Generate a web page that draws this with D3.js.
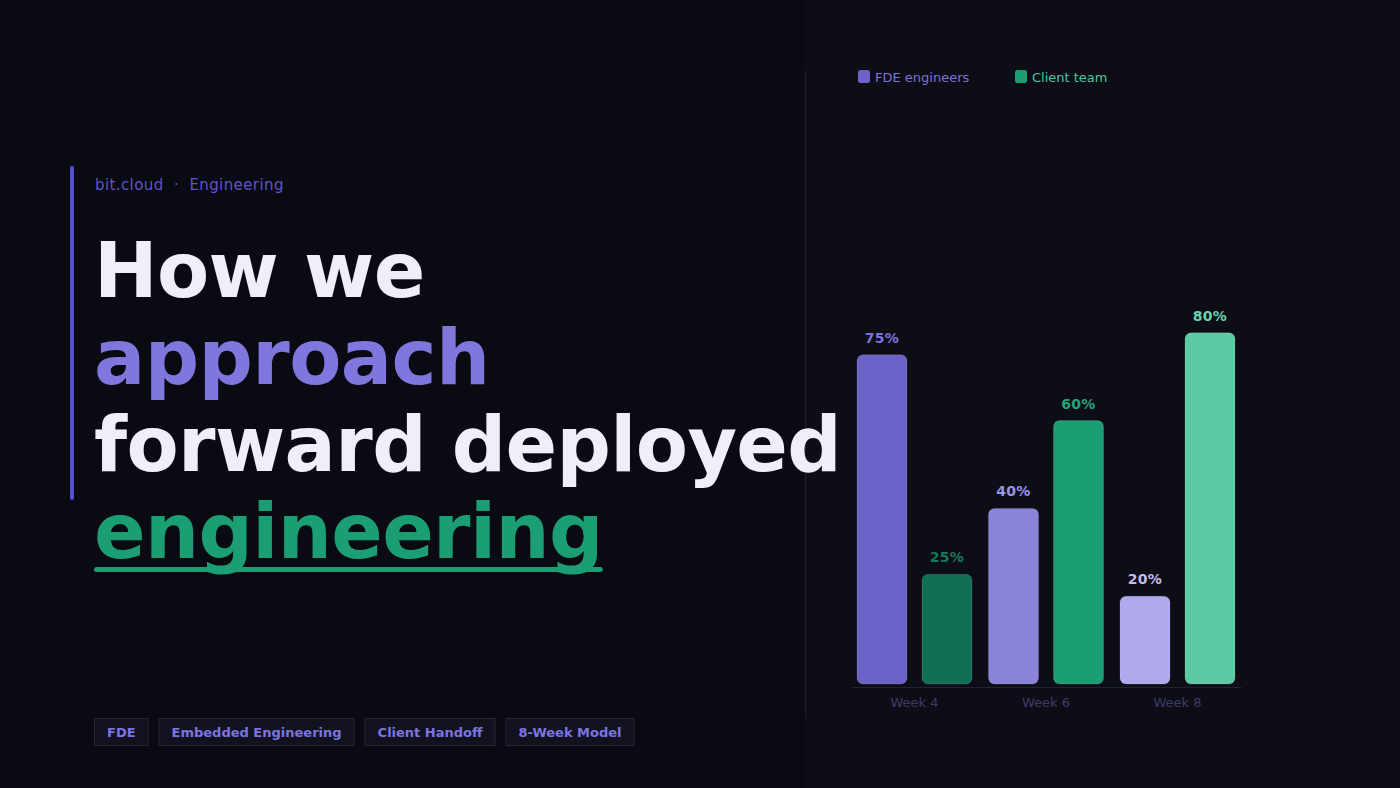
<!DOCTYPE html>
<html>
<head>
<meta charset="utf-8">
<script src="https://cdn.jsdelivr.net/npm/d3@7"></script>
<style>
  html, body { margin: 0; padding: 0; background: #0a0a12; }
  svg { display: block; }
</style>
</head>
<body>
<script>
var w = 1400,
    h = 788;

// data
var weeks = ["Week 4", "Week 6", "Week 8"];
var series = ["FDE engineers", "Client team"];
var fdeValues = [75, 40, 20];
var clientValues = [25, 60, 80];
var titleLines = ["How we", "approach", "forward deployed", "engineering"];
var tags = ["FDE", "Embedded Engineering", "Client Handoff", "8-Week Model"];

// colours per week (lighter as weeks go on)
var fdeFill = ["#6c63c9", "#8a84d8", "#b0a9ec"];
var fdeLabel = ["#7b73dc", "#9b94e2", "#c2bcf2"];
var clientFill = ["#0f7055", "#1c9e74", "#5ecaa5"];
var clientLabel = ["#13795b", "#22a47a", "#6ad1ac"];

var svg = d3.select("body")
    .append("svg")
    .attr("width", w)
    .attr("height", h);

svg.append("rect")
    .attr("width", w).attr("height", h)
    .attr("fill", "#0a0a12");

// right panel
svg.append("rect")
    .attr("x", 805).attr("y", 0)
    .attr("width", w - 805).attr("height", h)
    .attr("fill", "#0d0d16");

svg.append("line")
    .attr("x1", 805.5).attr("x2", 805.5)
    .attr("y1", 70).attr("y2", 718)
    .attr("stroke", "#1f1f2e")
    .attr("stroke-width", 1);

// ---- left side text ----
var font = "DejaVu Sans, Verdana, sans-serif";

svg.append("rect")
    .attr("x", 70).attr("y", 166)
    .attr("width", 4).attr("height", 334)
    .attr("rx", 2)
    .attr("fill", "#5a4fd0");

svg.append("text")
    .attr("x", 95).attr("y", 190)
    .attr("font-family", font)
    .attr("font-size", 15)
    .attr("letter-spacing", 0.4)
    .attr("fill", "#5d54cc")
    .attr("xml:space", "preserve")
    .text("bit.cloud  \u00b7  Engineering");

var titleColors = ["#f0eff7", "#7f76de", "#f0eff7", "#1c9e74"];

svg.selectAll(".title")
    .data(titleLines)
    .enter()
    .append("text")
    .attr("class", "title")
    .attr("x", 94)
    .attr("y", function(d, i) { return 297 + i * 87; })
    .attr("font-family", font)
    .attr("font-weight", "bold")
    .attr("font-size", 76)
    .attr("letter-spacing", -0.6)
    .attr("fill", function(d, i) { return titleColors[i]; })
    .text(function(d) { return d; });

// underline under last word
var lastTitle = svg.selectAll(".title").filter(function(d, i) { return i === 3; });
var ulWidth = lastTitle.node().getComputedTextLength();
svg.insert("rect", ".title")
    .attr("x", 94).attr("y", 567)
    .attr("width", ulWidth).attr("height", 5)
    .attr("rx", 2.5)
    .attr("fill", "#1c9e74");

// tags
var tagX = 94;
tags.forEach(function(t) {
    var g = svg.append("g").attr("transform", "translate(" + tagX + ",718)");
    var rect = g.append("rect")
        .attr("x", 0.5).attr("y", 0.5)
        .attr("height", 27)
        .attr("fill", "#12121e")
        .attr("stroke", "#262638");
    var txt = g.append("text")
        .attr("x", 13).attr("y", 19)
        .attr("font-family", font)
        .attr("font-weight", "bold")
        .attr("font-size", 13)
        .attr("fill", "#7b74e2")
        .text(t);
    var tw = txt.node().getComputedTextLength() + 26;
    rect.attr("width", tw - 1);
    tagX += tw + 10;
});

// ---- chart ----
var baseY = 684;

var x0 = d3.scaleBand()
    .domain(weeks)
    .range([851, 1241])
    .paddingInner(0.1255)
    .paddingOuter(0.0456);

var x1 = d3.scaleBand()
    .domain(series)
    .range([0, x0.bandwidth()])
    .paddingInner(0.2308);

var y = d3.scaleLinear()
    .domain([0, 100])
    .range([baseY, baseY - 439]);

var rows = weeks.map(function(wk, i) {
    return [
        { week: wk, key: series[0], value: fdeValues[i], fill: fdeFill[i], label: fdeLabel[i] },
        { week: wk, key: series[1], value: clientValues[i], fill: clientFill[i], label: clientLabel[i] }
    ];
});

var groups = svg.selectAll(".grp")
    .data(rows)
    .enter()
    .append("g")
    .attr("class", "grp")
    .attr("transform", function(d) { return "translate(" + x0(d[0].week) + ",0)"; });

groups.selectAll("rect")
    .data(function(d) { return d; })
    .enter()
    .append("rect")
    .attr("x", function(d) { return x1(d.key); })
    .attr("y", function(d) { return y(d.value); })
    .attr("width", x1.bandwidth())
    .attr("height", function(d) { return baseY - y(d.value); })
    .attr("rx", 6)
    .attr("fill", function(d) { return d.fill; })
    .attr("stroke", "rgba(255,255,255,0.12)")
    .attr("stroke-width", 1);

groups.selectAll("text")
    .data(function(d) { return d; })
    .enter()
    .append("text")
    .attr("x", function(d) { return x1(d.key) + x1.bandwidth() / 2; })
    .attr("y", function(d) { return y(d.value) - 12; })
    .attr("text-anchor", "middle")
    .attr("font-family", font)
    .attr("font-weight", "bold")
    .attr("font-size", 14)
    .attr("letter-spacing", 0.3)
    .attr("fill", function(d) { return d.label; })
    .text(function(d) { return d.value + "%"; });

// axis
var xAxis = svg.append("g")
    .attr("transform", "translate(0," + (baseY + 3) + ")")
    .call(d3.axisBottom(x0).tickSize(0).tickPadding(11).tickSizeOuter(0));

xAxis.select(".domain").attr("stroke", "#222235");
xAxis.selectAll("text")
    .attr("font-family", font)
    .attr("font-size", 13)
    .attr("fill", "#3f3b68");

// legend
var legendX = [858, 1015];
var legendFill = ["#6c63c9", "#1c9e74"];
var legendText = ["#7b73d8", "#4fc49e"];

var legend = svg.selectAll(".leg")
    .data(series)
    .enter()
    .append("g")
    .attr("class", "leg")
    .attr("transform", function(d, i) { return "translate(" + legendX[i] + ",70)"; });

legend.append("rect")
    .attr("width", 12).attr("height", 13)
    .attr("rx", 2.5)
    .attr("fill", function(d, i) { return legendFill[i]; });

legend.append("text")
    .attr("x", 17).attr("y", 12)
    .attr("font-family", font)
    .attr("font-size", 13)
    .attr("fill", function(d, i) { return legendText[i]; })
    .text(function(d) { return d; });
</script>
</body>
</html>
